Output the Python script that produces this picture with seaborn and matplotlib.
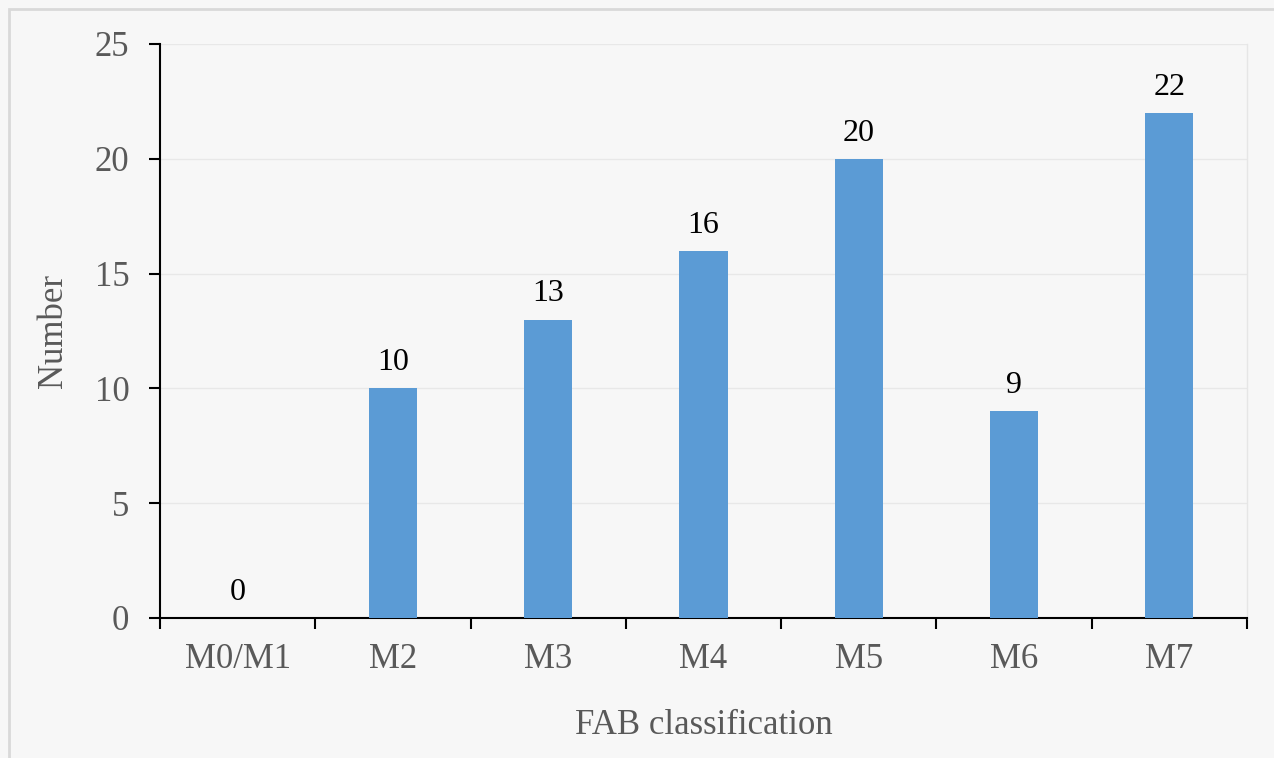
import matplotlib
matplotlib.use("Agg")
import matplotlib.pyplot as plt
from matplotlib.patches import Rectangle
from matplotlib.ticker import FixedLocator
import seaborn as sns

categories = ["M0/M1", "M2", "M3", "M4", "M5", "M6", "M7"]
counts = [0, 10, 13, 16, 20, 9, 22]
y_ticks = [0, 5, 10, 15, 20, 25]

sns.set_theme(style="white")
plt.rcParams["font.family"] = ["Liberation Serif", "DejaVu Serif"]

bg = "#f7f7f7"
fig = plt.figure(figsize=(12.74, 7.58), dpi=100, facecolor=bg)
ax = fig.add_axes([160 / 1274, 1 - 618 / 758, (1247 - 160) / 1274, (618 - 44) / 758])
ax.set_facecolor(bg)

# outer chart border (top and left visible)
fig.patches.append(Rectangle((9 / 1274, -0.1), 2.0, (758 - 9) / 758 + 0.1,
                             transform=fig.transFigure, fill=False,
                             edgecolor="#d9d9d9", linewidth=2.0, zorder=0))

sns.barplot(x=categories, y=counts, color="#5b9bd5", saturation=1,
            width=0.31, linewidth=0, ax=ax, zorder=3)

ax.set_xlim(-0.5, len(categories) - 0.5)
ax.set_ylim(0, 25)
ax.set_yticks(y_ticks)
ax.yaxis.grid(True, color="#e8e8e8", linewidth=1.0, zorder=0)
ax.set_axisbelow(True)

# category boundary ticks on the x axis
ax.xaxis.set_minor_locator(FixedLocator([i - 0.5 for i in range(len(categories) + 1)]))
ax.tick_params(axis="x", which="major", length=0, pad=18, labelsize=25, labelcolor="#595959")
ax.tick_params(axis="x", which="minor", length=8, width=1.5, color="black", direction="out", bottom=True)
ax.tick_params(axis="y", which="major", length=8, width=1.5, color="black", direction="out",
               left=True, pad=14, labelsize=25, labelcolor="#595959")

for side in ("left", "bottom"):
    ax.spines[side].set_color("black")
    ax.spines[side].set_linewidth(1.5)
ax.spines["top"].set_visible(False)
ax.spines["right"].set_color("#e6e6e6")
ax.spines["right"].set_linewidth(1.0)

for i, v in enumerate(counts):
    ax.annotate(str(v), xy=(i, v), xytext=(0, 8), textcoords="offset points",
                ha="center", va="bottom", fontsize=23, color="black")

ax.set_xlabel("FAB classification", fontsize=25, color="#595959", labelpad=24)
ax.set_ylabel("Number", fontsize=25, color="#595959", labelpad=18)

fig.savefig("out.png", dpi=100, facecolor=bg)
